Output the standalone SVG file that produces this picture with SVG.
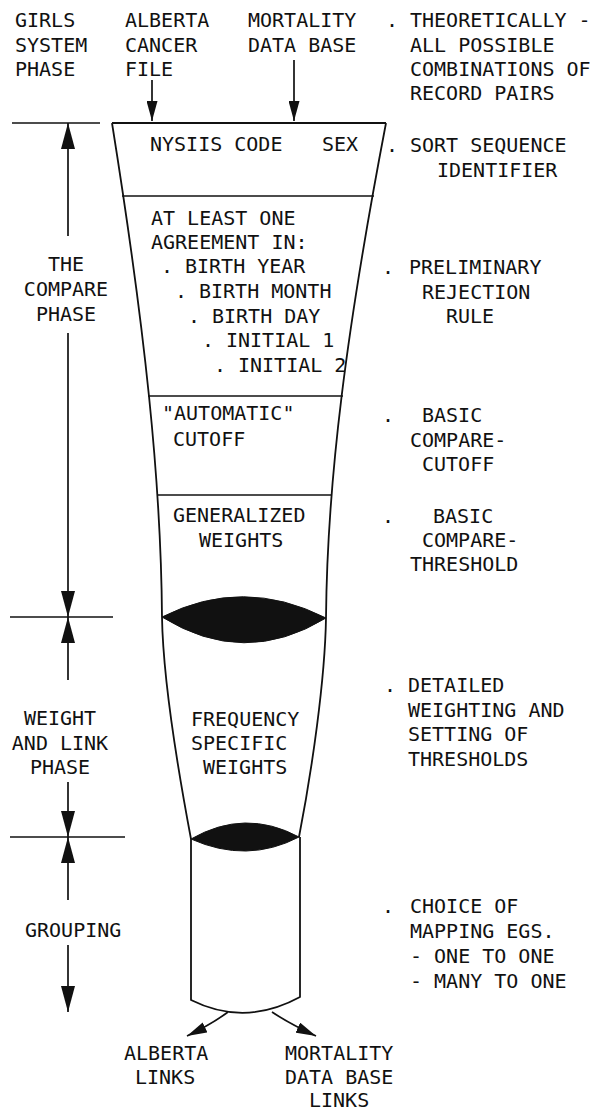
<svg xmlns="http://www.w3.org/2000/svg" width="597" height="1113" viewBox="0 0 597 1113">
<defs>
<style>
text { font-family: "DejaVu Sans Mono", "Liberation Mono", monospace; font-size: 20px; fill: #111; }
.c { text-anchor: middle; }
.ln { fill: none; stroke: #111; stroke-width: 1.8; stroke-linejoin: round; }
.tk { fill: none; stroke: #111; stroke-width: 1.5; }
.blk { fill: #111; stroke: #111; stroke-width: 1; }
.dim { fill: none; stroke: #111; stroke-width: 1.7; marker-end: url(#ah); }
.arr { fill: none; stroke: #111; stroke-width: 1.7; marker-end: url(#as); }
</style>
<marker id="ah" markerUnits="userSpaceOnUse" viewBox="0 0 26 14" markerWidth="26" markerHeight="14" refX="26" refY="7" orient="auto"><path d="M0,0 L26,7 L0,14 Z" fill="#111"/></marker>
<marker id="as" markerUnits="userSpaceOnUse" viewBox="0 0 20 11" markerWidth="20" markerHeight="11" refX="20" refY="5.5" orient="auto"><path d="M0,0 L20,5.5 L0,11 Z" fill="#111"/></marker>
</defs>
<rect width="597" height="1113" fill="#fff"/>

<g id="label-girls-system-phase">
<text x="15" y="27">GIRLS</text>
<text x="15" y="52">SYSTEM</text>
<text x="15" y="76">PHASE</text>
</g>

<g id="node-alberta-cancer-file">
<text x="125" y="27">ALBERTA</text>
<text x="125" y="52">CANCER</text>
<text x="125" y="76">FILE</text>
</g>

<g id="node-mortality-data-base">
<text x="248" y="27">MORTALITY</text>
<text x="248" y="52">DATA BASE</text>
</g>

<g id="note-theoretically">
<text y="27"><tspan x="386">.</tspan><tspan x="410">THEORETICALLY -</tspan></text>
<text x="410" y="52">ALL POSSIBLE</text>
<text x="410" y="76">COMBINATIONS OF</text>
<text x="410" y="100">RECORD PAIRS</text>
</g>

<g id="funnel-outline">
<path class="ln" d="M112,123 L386,123"/>
<path class="ln" d="M112,123 C145,330 161,480 162,617"/>
<path class="ln" d="M386,123 C346.4,330 327.2,480 326,618"/>
<path class="ln" d="M162,617 C163,680 178,770 191,839"/>
<path class="ln" d="M326,618 C325,680 312,770 299,837"/>
</g>

<g id="stage-sort-sequence">
<text x="150" y="151">NYSIIS CODE</text>
<text x="322" y="151">SEX</text>
<path class="tk" d="M122,196 L374,196"/>
</g>

<g id="stage-preliminary-rejection">
<text x="151" y="225">AT LEAST ONE</text>
<text x="151" y="249">AGREEMENT IN:</text>
<text y="273"><tspan x="161">.</tspan><tspan x="185">BIRTH YEAR</tspan></text>
<text y="298"><tspan x="175">.</tspan><tspan x="199">BIRTH MONTH</tspan></text>
<text y="323"><tspan x="188">.</tspan><tspan x="212">BIRTH DAY</tspan></text>
<text y="347"><tspan x="202">.</tspan><tspan x="226">INITIAL 1</tspan></text>
<text y="372"><tspan x="214">.</tspan><tspan x="238">INITIAL 2</tspan></text>
<path class="tk" d="M148,396 L343,396"/>
</g>

<g id="stage-automatic-cutoff">
<text x="162" y="420">"AUTOMATIC"</text>
<text x="173" y="446">CUTOFF</text>
<path class="tk" d="M157,495 L332,495"/>
</g>

<g id="stage-generalized-weights">
<text x="173" y="522">GENERALIZED</text>
<text x="199" y="547">WEIGHTS</text>
</g>

<g id="lens-1">
<path class="blk" d="M162,617 Q243,576 326,618 Q244,668 162,617 Z"/>
</g>

<g id="stage-frequency-weights">
<text x="191" y="726">FREQUENCY</text>
<text x="191" y="750">SPECIFIC</text>
<text x="203" y="774">WEIGHTS</text>
</g>

<g id="lens-2">
<path class="blk" d="M191,839 Q245,808 299,837 Q247,864 191,839 Z"/>
</g>

<g id="stage-grouping">
<path class="ln" d="M191,839 L191,1000 Q245,1027 300,997 L300,837"/>
</g>

<g id="phase-compare">
<path class="tk" d="M12,123 L100,123"/>
<text class="c" x="66" y="271">THE</text>
<text class="c" x="66" y="296">COMPARE</text>
<text class="c" x="66" y="321">PHASE</text>
</g>

<g id="phase-weight-link">
<path class="tk" d="M10,617 L113,617"/>
<text class="c" x="60" y="725">WEIGHT</text>
<text class="c" x="60" y="750">AND LINK</text>
<text class="c" x="60" y="774">PHASE</text>
</g>

<g id="phase-grouping">
<path class="tk" d="M10,837 L125,837"/>
<text x="25" y="937">GROUPING</text>
</g>

<g id="note-sort-sequence">
<text y="152"><tspan x="386">.</tspan><tspan x="410">SORT SEQUENCE</tspan></text>
<text x="437" y="177">IDENTIFIER</text>
</g>

<g id="note-preliminary-rejection">
<text y="274"><tspan x="382">.</tspan><tspan x="409">PRELIMINARY</tspan></text>
<text x="422" y="299">REJECTION</text>
<text x="446" y="323">RULE</text>
</g>

<g id="note-basic-cutoff">
<text y="422"><tspan x="382">.</tspan><tspan x="422">BASIC</tspan></text>
<text x="410" y="447">COMPARE-</text>
<text x="422" y="471">CUTOFF</text>
</g>

<g id="note-basic-threshold">
<text y="523"><tspan x="382">.</tspan><tspan x="433">BASIC</tspan></text>
<text x="422" y="547">COMPARE-</text>
<text x="410" y="571">THRESHOLD</text>
</g>

<g id="note-detailed-weighting">
<text y="692"><tspan x="384">.</tspan><tspan x="408">DETAILED</tspan></text>
<text x="408" y="717">WEIGHTING AND</text>
<text x="408" y="741">SETTING OF</text>
<text x="408" y="766">THRESHOLDS</text>
</g>

<g id="note-mapping">
<text y="913"><tspan x="382">.</tspan><tspan x="410">CHOICE OF</tspan></text>
<text x="410" y="938">MAPPING EGS.</text>
<text x="410" y="963">- ONE TO ONE</text>
<text x="410" y="988">- MANY TO ONE</text>
</g>

<g id="node-alberta-links">
<text x="124" y="1060">ALBERTA</text>
<text x="135" y="1084">LINKS</text>
</g>

<g id="node-mortality-links">
<text x="285" y="1060">MORTALITY</text>
<text x="285" y="1084">DATA BASE</text>
<text x="309" y="1107">LINKS</text>
</g>

<g id="dimension-arrows">
<path class="dim" d="M68,236 L68,123"/>
<path class="dim" d="M68,333 L68,617"/>
<path class="dim" d="M68,680 L68,617"/>
<path class="dim" d="M68,782 L68,837"/>
<path class="dim" d="M68,900 L68,837"/>
<path class="dim" d="M68,945 L68,1012"/>
</g>

<g id="connectors">
<path class="arr" d="M152,80 L152,121"/>
<path class="arr" d="M294,60 L294,121"/>
<path class="arr" d="M228,1012 Q212,1024 187,1036"/>
<path class="arr" d="M272,1012 Q290,1024 316,1036"/>
</g>
</svg>
